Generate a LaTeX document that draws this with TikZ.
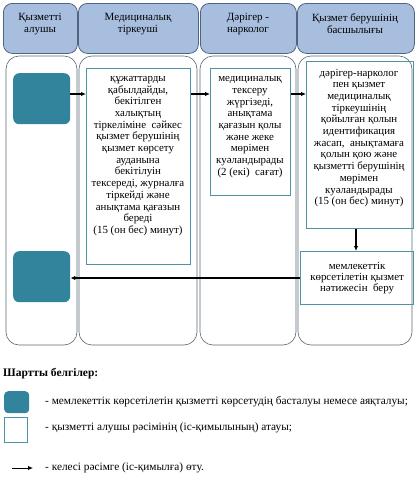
\documentclass[tikz,border=0pt]{standalone}
\usepackage{fontspec}
\setmainfont{Liberation Serif}
\usetikzlibrary{arrows.meta}
\definecolor{hdrfill}{HTML}{A8BEDE}
\definecolor{hdrline}{HTML}{4E6480}
\definecolor{laneline}{HTML}{5C6878}
\definecolor{termfill}{HTML}{31849B}
\definecolor{boxline}{HTML}{4F93A6}
\begin{document}
\begin{tikzpicture}[x=1pt,y=-1pt,
  hdr/.style={draw=hdrline, fill=hdrfill, rounded corners=9pt, line width=0.8pt, anchor=north west, inner sep=0pt},
  hdrtext/.style={align=center, font=\fontsize{11}{11.8}\selectfont, inner sep=0pt},
  lane/.style={draw=laneline, rounded corners=13pt, line width=0.6pt},
  term/.style={fill=termfill, rounded corners=6pt, anchor=north west, inner sep=0pt},
  proc/.style={draw=boxline, line width=1.2pt, anchor=north west, inner sep=0pt},
  proctext/.style={align=center, font=\fontsize{10.9}{11.7}\selectfont, inner sep=0pt},
  flow/.style={-{Latex[length=5pt,width=4.5pt]}, line width=1.2pt},
  legtext/.style={anchor=west, font=\fontsize{11.3}{12}\selectfont, inner sep=0pt}
]
\useasboundingbox (0,0) rectangle (417,479);
% lanes
\draw[lane] (6,56) rectangle (77,345);
\draw[lane] (79,56) rectangle (197,345);
\draw[lane] (200,56) rectangle (296,345);
\draw[lane] (298,56) rectangle (412,345);
% headers
\node[hdr, minimum width=74pt, minimum height=50pt] (h1) at (3,3) {};
\node[hdr, minimum width=120pt, minimum height=50pt] (h2) at (78,3) {};
\node[hdr, minimum width=96pt, minimum height=50pt] (h3) at (200,3) {};
\node[hdr, minimum width=117pt, minimum height=50pt] (h4) at (297,3) {};
\node[hdrtext] (h1t) at (40,24) {Қызметті\\алушы};
\node[hdrtext] (h2t) at (138,24) {Медициналық\\тіркеуші};
\node[hdrtext] (h3t) at (248,24) {Дәрігер -\\нарколог};
\node[hdrtext] (h4t) at (355,24) {Қызмет берушінің\\басшылығы};
% terminals
\node[term, minimum width=57pt, minimum height=51pt] (t1) at (13,73) {};
\node[term, minimum width=57pt, minimum height=51pt] (t2) at (13,251) {};
% process boxes
\node[proc, minimum width=104pt, minimum height=196pt] (b2) at (86,68) {};
\node[proc, minimum width=80pt, minimum height=127pt] (b3) at (210,68) {};
\node[proc, minimum width=107pt, minimum height=167pt] (b4) at (306,61) {};
\node[proc, minimum width=113pt, minimum height=53pt, align=center, font=\fontsize{10.9}{11}\selectfont] (b5) at (300,251) {мемлекеттік\\көрсетілетін қызмет\\нәтижесін\ \ беру};
\node[proctext] (b2t) at (138,156) {құжаттарды\\қабылдайды,\\бекітілген\\халықтың\\тіркеліміне\ \ сәйкес\\қызмет берушінің\\қызмет көрсету\\ауданына\\бекітілуін\\тексереді, журналға\\тіркейді және\\анықтама қағазын\\береді\\(15 (он бес) минут)};
\node[proctext] (b3t) at (250,127) {медициналық\\тексеру\\жүргізеді,\\анықтама\\қағазын қолы\\және жеке\\мөрімен\\куәландырады\\(2 (екі)\ \ сағат)};
\node[proctext] (b4t) at (359,138) {дәрігер-нарколог\\пен қызмет\\медициналық\\тіркеушінің\\қойылған қолын\\идентификация\\жасап,\ \ анықтамаға\\қолын қою және\\қызметті берушінің\\мөрімен\\куәландырады\\(15 (он бес) минут)};
% connectors
\draw[flow] (t1.east |- 0,94) -- (b2.west |- 0,94);
\draw[flow] (b2.east |- 0,94) -- (b3.west |- 0,94);
\draw[flow] (b3.east |- 0,94) -- (b4.west |- 0,94);
\draw[flow] (b4.south -| 356,0) -- (b5.north -| 356,0);
\draw[flow] (b5.west |- 0,278) -- (t2.east |- 0,278);
% legend
\node[anchor=west, inner sep=0pt, font=\bfseries\fontsize{11.5}{12}\selectfont] (legtitle) at (3,374) {Шартты белгілер:};
\node[term, rounded corners=4pt, minimum width=25pt, minimum height=22pt] (lt) at (4,391) {};
\node[proc, minimum width=23pt, minimum height=25pt] (lb) at (4,417) {};
\coordinate (la1) at (12,468);
\coordinate (la2) at (33,468);
\draw[-{Latex[length=5pt,width=4.5pt]}, line width=0.9pt] (la1) -- (la2);
\node[legtext] (l1) at (45,402) {- мемлекеттік көрсетілетін қызметті көрсетудің басталуы немесе аяқталуы;};
\node[legtext] (l2) at (45,428) {- қызметті алушы рәсімінің (іс-қимылының) атауы;};
\node[legtext] (l3) at (45,468) {- келесі рәсімге (іс-қимылға) өту.};
\end{tikzpicture}
\end{document}
